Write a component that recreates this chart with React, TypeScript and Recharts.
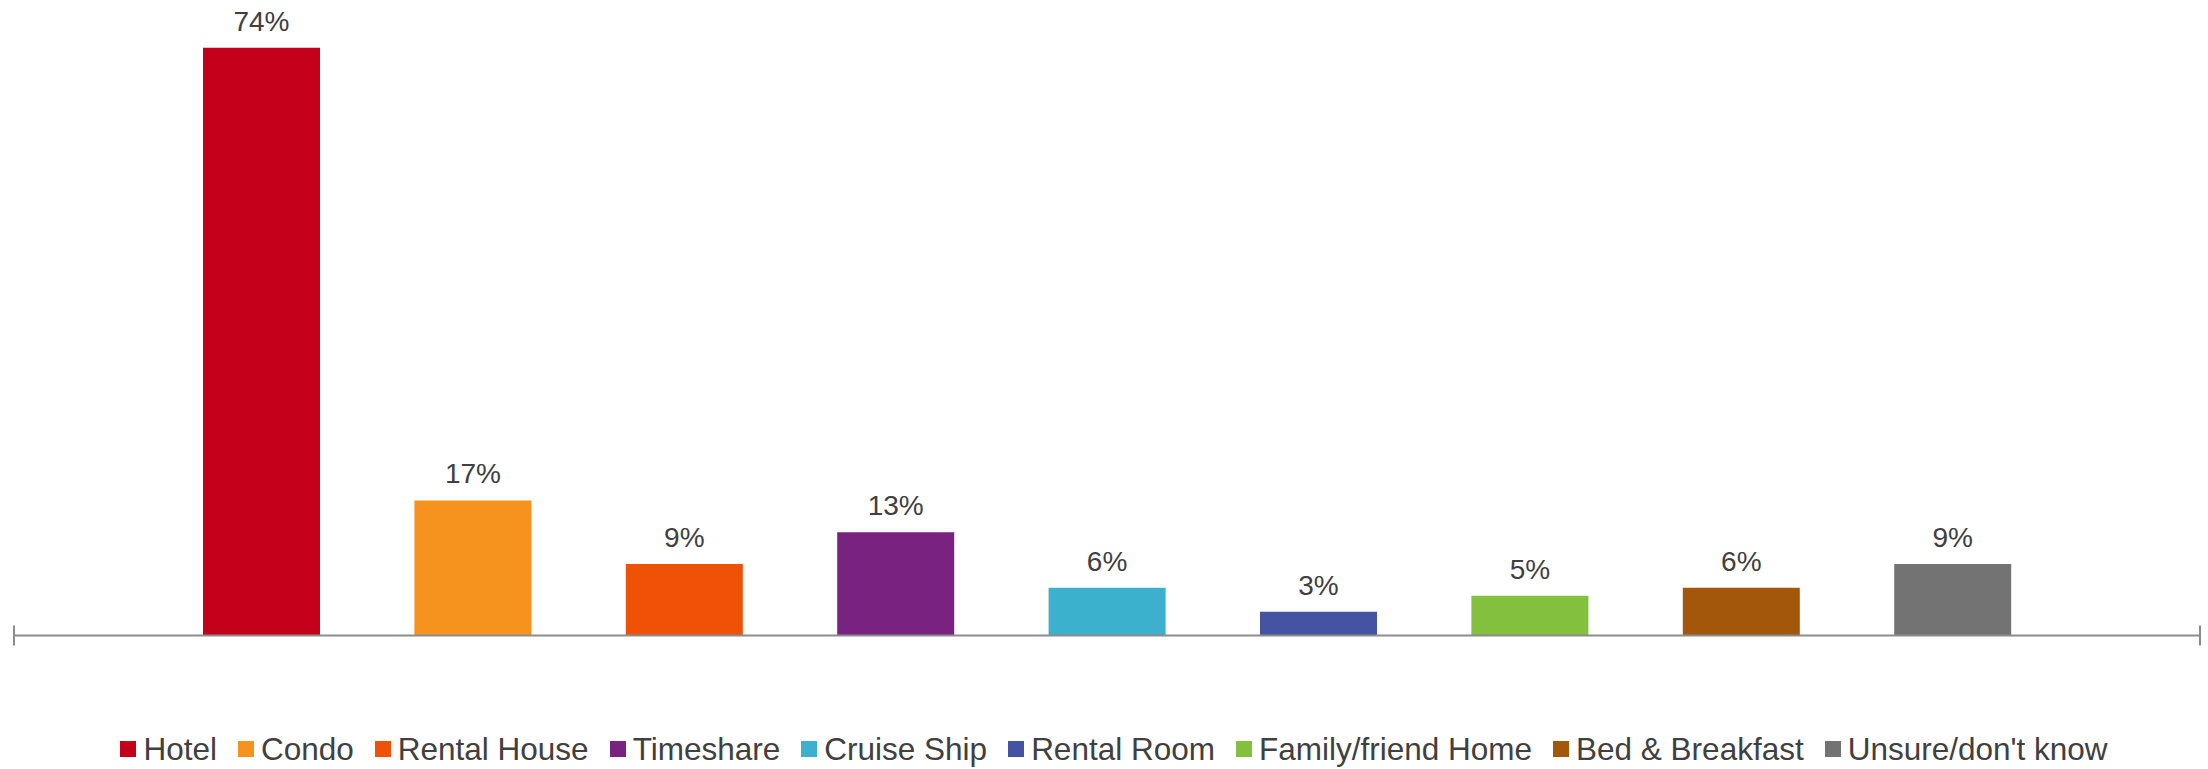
import React from 'react';
import { BarChart, Bar, XAxis, YAxis, LabelList, Legend, ReferenceLine } from 'recharts';

const categories = ['All'];
const seriesNames = ['Hotel', 'Condo', 'Rental House', 'Timeshare', 'Cruise Ship', 'Rental Room', 'Family/friend Home', 'Bed & Breakfast', "Unsure/don't know"];
const seriesValues = [74, 17, 9, 13, 6, 3, 5, 6, 9];
const seriesColors = ['#C4001A', '#F6921E', '#EF5107', '#7A2280', '#3CB1CD', '#4553A3', '#82C03E', '#A2570A', '#737373'];

const data = categories.map((c) => {
  const row: Record<string, string | number> = { name: c };
  seriesNames.forEach((s, i) => {
    row[s] = seriesValues[i];
  });
  return row;
});

const FONT = "'Liberation Sans', Arial, sans-serif";
const TEXT = '#404040';
const AXIS = '#8C8C8C';

const LegendContent = () => (
  <div
    style={{
      display: 'flex',
      justifyContent: 'center',
      alignItems: 'center',
      height: 40,
      paddingLeft: 14,
      fontFamily: FONT,
      fontSize: 31.5,
      color: TEXT,
      whiteSpace: 'nowrap',
    }}
  >
    {seriesNames.map((s, i) => (
      <div key={s} style={{ display: 'flex', alignItems: 'center', marginRight: i < seriesNames.length - 1 ? 21 : 0 }}>
        <div style={{ width: 16, height: 16, background: seriesColors[i], marginRight: 7 }} />
        <span>{s}</span>
      </div>
    ))}
  </div>
);

export default function App() {
  return (
    <div style={{ position: 'absolute', left: 0, top: 0, width: 2208, height: 769, background: '#fff' }}>
      <BarChart
        width={2208}
        height={769}
        data={data}
        margin={{ top: 0, right: 8, bottom: 0, left: 14 }}
        barSize={117}
        barGap={94.4}
      >
        <XAxis
          dataKey="name"
          height={93.5}
          tick={false}
          tickLine={false}
          axisLine={{ stroke: AXIS, strokeWidth: 2 }}
        />
        <YAxis hide domain={[0, 80]} />
        {seriesNames.map((s, i) => (
          <Bar key={s} dataKey={s} fill={seriesColors[i]} isAnimationActive={false}>
            <LabelList
              dataKey={s}
              position="top"
              offset={17}
              formatter={(v: number) => `${v}%`}
              style={{ fill: TEXT, fontSize: 28, fontFamily: FONT }}
            />
          </Bar>
        ))}
        <ReferenceLine
          segment={[{ x: 'All', y: -1.26 }, { x: 'All', y: 1.26 }]}
          position="start"
          stroke={AXIS}
          strokeWidth={2}
          ifOverflow="visible"
        />
        <ReferenceLine
          segment={[{ x: 'All', y: -1.26 }, { x: 'All', y: 1.26 }]}
          position="end"
          stroke={AXIS}
          strokeWidth={2}
          ifOverflow="visible"
        />
        <Legend verticalAlign="bottom" content={<LegendContent />} />
      </BarChart>
    </div>
  );
}
